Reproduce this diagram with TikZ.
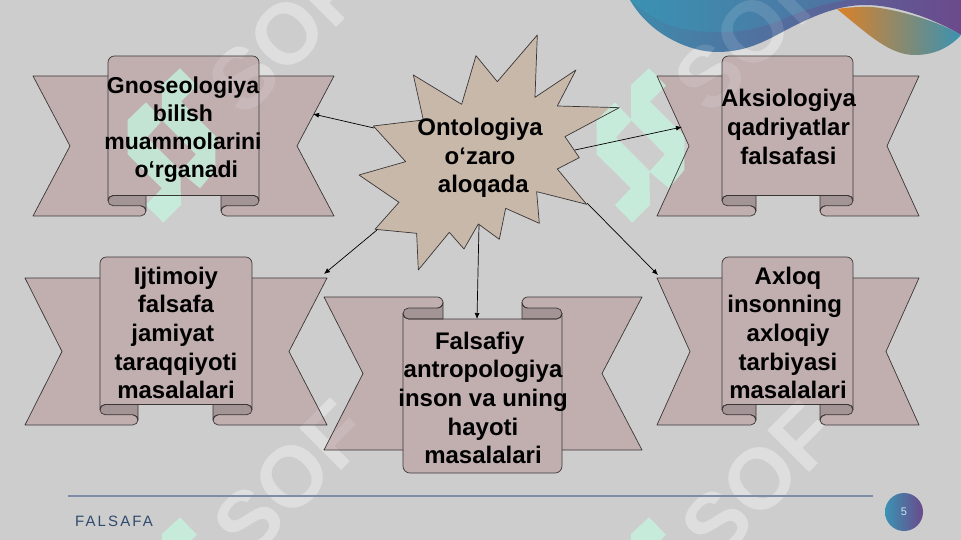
\documentclass[tikz,border=0pt]{standalone}
\usepackage{fontspec}
\setmainfont{Liberation Sans}
\usetikzlibrary{arrows.meta}
\definecolor{bgc}{HTML}{CDCDCD}
\definecolor{ribc}{HTML}{C1AFB0}
\definecolor{curlc}{HTML}{A39495}
\definecolor{starc}{HTML}{C8B8AA}
\definecolor{edgec}{HTML}{3A3636}
\definecolor{mintc}{HTML}{C6F4DE}
\definecolor{footc}{HTML}{2F4A6D}
\definecolor{rulec}{HTML}{7F8CA8}
\definecolor{tealc}{HTML}{3A92B2}
\definecolor{bandc}{HTML}{3F8AAC}
\definecolor{purpc}{HTML}{6B4A8C}
\definecolor{orangec}{HTML}{DB8128}
\newcommand{\tsp}{\mbox{\hspace{6.6pt}}}
\tikzset{
  tailS/.style={fill=ribc,draw=none},
  curlS/.style={fill=curlc,draw=none},
  panelS/.style={fill=ribc,draw=none},
  starS/.style={fill=starc,draw=none},
  lineS/.style={draw=edgec,line width=0.7pt,fill=none,line join=round},
  label/.style={font=\fontsize{24}{28.7}\selectfont\bfseries,align=center,text=black,inner sep=0pt},
  link/.style={draw=black,line width=0.7pt,-{Latex[length=6pt,width=5pt]}},
  mark soft/.style={font=\fontsize{86}{86}\selectfont\bfseries,text=white,rotate=45,inner sep=0pt}
}
\def\ribbonparse#1,#2,#3,#4,#5,#6,#7,#8\relax#9{%
  \def\xo{#1}\def\xn{#2}\def\xp{#3}\def\xi{#4}\def\xj{#5}\def\xq{#6}\def\xm{#7}\def\xr{#8}\ribbonys#9\relax}
\def\ribbonys#1,#2,#3,#4\relax{\def\ya{#1}\def\yb{#2}\def\yc{#3}\def\yd{#4}}
% args: x outer, notch, panel, inner, inner, panel, notch, outer ; y panel edge, tail edge, fold line, tail curl edge
\newcommand{\ribbonshape}[2]{{%
  \ribbonparse#1\relax{#2}%
  \pgfmathsetmacro{\rr}{(\yd-\yc)/4}%
  \pgfmathsetmacro{\R}{abs(\rr)}%
  \pgfmathsetmacro{\ym}{(\yb+\yd)/2}%
  \pgfmathsetmacro{\yone}{\yc+\rr}%
  \pgfmathsetmacro{\ytwo}{\yc+2*\rr}%
  \pgfmathsetmacro{\ythr}{\yd-\rr}%
  \pgfmathsetmacro{\T}{\R*1.25}%
  \pgfmathsetmacro{\ttv}{\rr*1.25}%
  \path[tailS] (\xp,\yb) -- (\xo,\yb) -- (\xn,\ym) -- (\xo,\yd) -- ({\xi-\R},\yd)
     .. controls ({\xi-.45*\R},\yd) and (\xi,{\yd-.55*\rr}) .. (\xi,\ythr)
     .. controls (\xi,{\yd-1.45*\rr}) and ({\xi-.45*\R},\ytwo) .. ({\xi-\R},\ytwo);
  \path[tailS] (\xq,\yb) -- (\xr,\yb) -- (\xm,\ym) -- (\xr,\yd) -- ({\xj+\R},\yd)
     .. controls ({\xj+.45*\R},\yd) and (\xj,{\yd-.55*\rr}) .. (\xj,\ythr)
     .. controls (\xj,{\yd-1.45*\rr}) and ({\xj+.45*\R},\ytwo) .. ({\xj+\R},\ytwo);
  \path[curlS] ({\xp+\R},\yc) -- (\xi,\yc) -- (\xi,\ythr)
     .. controls (\xi,{\yd-1.45*\rr}) and ({\xi-.45*\R},\ytwo) .. ({\xi-\R},\ytwo)
     -- ({\xp+\R},\ytwo)
     .. controls ({\xp+.45*\R},\ytwo) and (\xp,{\yone+.55*\rr}) .. (\xp,\yone)
     .. controls (\xp,{\yone-.55*\rr}) and ({\xp+.45*\R},\yc) .. ({\xp+\R},\yc) -- cycle;
  \path[curlS] ({\xq-\R},\yc) -- (\xj,\yc) -- (\xj,\ythr)
     .. controls (\xj,{\yd-1.45*\rr}) and ({\xj+.45*\R},\ytwo) .. ({\xj+\R},\ytwo)
     -- ({\xq-\R},\ytwo)
     .. controls ({\xq-.45*\R},\ytwo) and (\xq,{\yone+.55*\rr}) .. (\xq,\yone)
     .. controls (\xq,{\yone-.55*\rr}) and ({\xq-.45*\R},\yc) .. ({\xq-\R},\yc) -- cycle;
  \path[panelS] (\xp,\yone) -- (\xp,{\ya+\ttv})
     .. controls (\xp,{\ya+.45*\ttv}) and ({\xp+.45*\T},\ya) .. ({\xp+\T},\ya)
     -- ({\xq-\T},\ya)
     .. controls ({\xq-.45*\T},\ya) and (\xq,{\ya+.45*\ttv}) .. (\xq,{\ya+\ttv})
     -- (\xq,\yone)
     .. controls (\xq,{\yone-.55*\rr}) and ({\xq-.45*\R},\yc) .. ({\xq-\R},\yc)
     -- ({\xp+\R},\yc)
     .. controls ({\xp+.45*\R},\yc) and (\xp,{\yone-.55*\rr}) .. (\xp,\yone) -- cycle;
}}
\newcommand{\allribbons}{%
  \ribbonshape{33,70,108,146,221,259,297,334}{56,76,195.5,216}%
  \ribbonshape{657,689,722,756,820,853,887,919}{56,76,195.5,216}%
  \ribbonshape{25,62,100,138,213,252,289,327}{257,278,404.5,425}%
  \ribbonshape{657,690,722,756,820,853,886,919}{257,278,404.5,425}%
  \ribbonshape{324,363,403,443,522,562,602,642}{473,450,319,297}%
}
\newcommand{\starshape}{%
  \path[starS,shift={(340,20)},x=0.3333pt,y=-0.3333pt]
   (100,318)--(250,300)--(220,165)--(365,253)--(408,107)--(472,185)--(592,45)--(585,232)--(708,150)--(652,258)--(838,263)--(675,350)--(718,413)--(652,447)--(740,553)--(590,515)--(598,610)--(497,565)--(478,658)--(415,612)--(372,687)--(328,637)--(235,750)--(230,640)--(105,628)--(177,547)--(57,465)--(197,425)--cycle;
}
\newcommand{\softmarks}[2]{%
  \foreach \wx/\wy/\wn in {286/36/a,752/34/b,291/479/c,759/481/d}
    \node[mark soft,text opacity=#1] (soft\wn#2) at (\wx,\wy) {SOF};
}
\begin{document}
\begin{tikzpicture}[x=1pt,y=-1pt]
\useasboundingbox (0,0) rectangle (961,540);
\clip (0,0) rectangle (961,540);
\fill[bgc] (0,0) rectangle (961,540);
\softmarks{0.28}{u}
% top waves
\path[left color=bandc,middle color=purpc,right color=purpc] (630,0) .. controls (650,35) and (690,52) .. (717,52)
   .. controls (750,52) and (770,38) .. (790,28) .. controls (815,15) and (840,5) .. (865,5)
   .. controls (900,5) and (940,22) .. (961,35) -- (961,0) -- cycle;
\path[left color=tealc,right color=purpc!45!tealc] (630,0) .. controls (640,8) and (645,12) .. (653,17)
   .. controls (672,28) and (690,32) .. (720,32)
   .. controls (750,32) and (770,25) .. (790,16) .. controls (810,8) and (825,4) .. (847,0) -- cycle;
\path[left color=orangec,right color=tealc] (837,9) .. controls (850,7) and (870,6) .. (880,8)
   .. controls (905,12) and (940,22) .. (961,35)
   .. controls (950,47) and (935,55) .. (915,55)
   .. controls (890,55) and (870,36) .. (837,9) -- cycle;
% ribbon and star fills
\allribbons
\starshape
% watermark
\softmarks{0.12}{o}
\foreach \mx/\my/\mn in {0/0/a,-469/0/b,0/449/c,-469/449/d}
  \fill[mintc,opacity=0.78,shift={(590+\mx,60+\my)},x=0.3333pt,y=-0.3333pt]
   (123,75)--(177,25)--(228,77)--(180,125)--(283,228)--(283,330)--(237,385)--(178,335)--(225,283)--(123,180)--cycle
   (20,180)--(75,127)--(125,180)--(78,232)--(178,332)--(180,435)--(127,488)--(75,435)--(123,385)--(20,283)--cycle;
% outlines
\tikzset{tailS/.style={lineS},curlS/.style={lineS},panelS/.style={lineS},starS/.style={lineS}}
\allribbons
\starshape
% footer
\coordinate (ruleA) at (68,496);
\coordinate (ruleB) at (873,496);
\draw[rulec,line width=1.1pt] (ruleA) -- (ruleB);
\node[anchor=base west,inner sep=0pt,text=footc,font=\fontsize{15}{15}\selectfont\addfontfeatures{LetterSpace=14}] (foot) at (75,526) {FALSAFA};
\node[circle,minimum size=38pt,inner sep=0pt,left color=tealc,right color=purpc,text=white!75!tealc,font=\fontsize{11}{11}\selectfont] (page) at (904,512) {5};
% labels
\node[label] (center) at (480,158) {Ontologiya\\o‘zaro\\\tsp aloqada};
\node[label,font=\fontsize{23}{28}\selectfont\bfseries] (gno) at (183,129.5) {Gnoseologiya\\bilish\\muammolarini\\\tsp o‘rganadi};
\node[label] (aks) at (788.5,127) {Aksiologiya\\qadriyatlar\\falsafasi};
\node[label] (ijt) at (176,333) {Ijtimoiy\\falsafa\\jamiyat\tsp\\taraqqiyoti\\masalalari};
\node[label] (axl) at (788,333) {Axloq\\insonning\tsp\\axloqiy\\tarbiyasi\\masalalari};
\node[label] (fal) at (483,398) {Falsafiy\tsp\\antropologiya\\inson va uning\\hayoti\\masalalari};
% connectors
\coordinate (s1) at (374,128); \coordinate (e1) at (313,114);
\coordinate (s2) at (575,150); \coordinate (e2) at (682,127);
\coordinate (s3) at (377,230); \coordinate (e3) at (324,274);
\coordinate (s4) at (479,225); \coordinate (e4) at (477,319);
\coordinate (s5) at (587,203); \coordinate (e5) at (658,275);
\draw[link] (s1) -- (e1);
\draw[link] (s2) -- (e2);
\draw[link] (s3) -- (e3);
\draw[link] (s4) -- (e4);
\draw[link] (s5) -- (e5);
\end{tikzpicture}
\end{document}
